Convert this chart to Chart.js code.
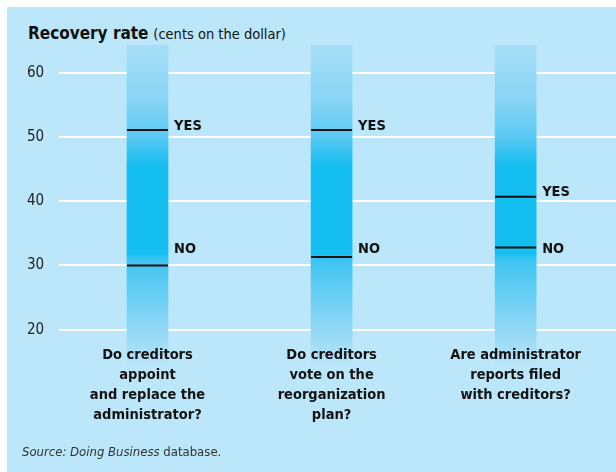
<!DOCTYPE html>
<html>
<head>
<meta charset="utf-8">
<script src="https://cdn.jsdelivr.net/npm/chart.js@4.4.1/dist/chart.umd.min.js"></script>
<style>
  body { margin: 0; background: #fff; }
  #wrap { position: relative; width: 616px; height: 472px; overflow: hidden; }
  #panel { position: absolute; left: 7px; top: 7px; right: 0; bottom: 0; background: #bce6fa; }
  .cond { font-family: "DejaVu Sans Condensed", "Liberation Sans Narrow", Roboto, sans-serif; font-stretch: condensed; color: #111; }
  #title { position: absolute; left: 28px; top: 23px; font-size: 17px; line-height: 20px; white-space: nowrap; }
  #title b { font-weight: bold; }
  #title span { font-size: 14.5px; }
  #source { position: absolute; left: 22px; top: 444px; font-size: 13px; line-height: 16px; color: #333; white-space: nowrap; }
  #chart { position: absolute; left: 0; top: 0; }
</style>
</head>
<body>
<div id="wrap">
  <div id="panel"></div>
  <div id="title" class="cond"><b>Recovery rate</b> <span>(cents on the dollar)</span></div>
  <canvas id="chart" width="616" height="472"></canvas>
  <div id="source" class="cond"><i>Source: Doing Business</i> database.</div>
</div>
<script>
// values
const questions = [
    ['Do creditors', 'appoint', 'and replace the', 'administrator?'],
    ['Do creditors', 'vote on the', 'reorganization', 'plan?'],
    ['Are administrator', 'reports filed', 'with creditors?']
];
const yesValues = [51.1, 51.1, 40.7];
const noValues = [30.0, 31.3, 32.8];
const yTicks = [20, 30, 40, 50, 60];
const stripRange = [14.5, 64.3];

const FONT = '"DejaVu Sans Condensed", "Liberation Sans Narrow", Roboto, sans-serif';

function stripGradient(context) {
    const chart = context.chart;
    const y = chart.scales.y;
    if (!chart.chartArea || !y) return '#14bef0';
    const top = y.getPixelForValue(stripRange[1]);
    const bottom = y.getPixelForValue(stripRange[0]);
    const g = chart.ctx.createLinearGradient(0, top, 0, bottom);
    g.addColorStop(0, '#a8def7');
    g.addColorStop(0.17, '#88d5f5');
    g.addColorStop(0.29, '#58c9f3');
    g.addColorStop(0.378, '#14bef0');
    g.addColorStop(0.65, '#14bef0');
    g.addColorStop(0.672, '#3ec4f2');
    g.addColorStop(0.79, '#6bcff4');
    g.addColorStop(0.913, '#9adaf6');
    g.addColorStop(1, '#b8e4f9');
    return g;
}

// YES / NO text beside the black marks
const markLabels = {
    id: 'markLabels',
    afterDatasetsDraw(chart) {
        const ctx = chart.ctx;
        const yesPts = chart.getDatasetMeta(1).data;
        const noPts = chart.getDatasetMeta(2).data;
        const noTop = Math.min(...noPts.map(p => p.y));
        ctx.save();
        ctx.font = 'bold 14.5px ' + FONT;
        ctx.fillStyle = '#111';
        ctx.textBaseline = 'middle';
        yesPts.forEach(p => ctx.fillText('YES', p.x + 26.5, p.y - 4));
        noPts.forEach(p => ctx.fillText('NO', p.x + 26.5, noTop + 2));
        ctx.restore();
    }
};

const markStyle = {
    type: 'line',
    showLine: false,
    pointStyle: 'line',
    pointRadius: 20.5,
    pointBorderWidth: 2,
    pointBorderColor: '#111',
    order: 1
};

new Chart(document.getElementById('chart'), {
    type: 'bar',
    data: {
        datasets: [
            {
                data: questions.map((q, i) => ({ x: i, y: stripRange })),
                backgroundColor: stripGradient,
                barThickness: 41,
                borderWidth: 0,
                clip: false,
                order: 2
            },
            { ...markStyle, data: yesValues.map((v, i) => ({ x: i, y: v })) },
            { ...markStyle, data: noValues.map((v, i) => ({ x: i, y: v })) }
        ]
    },
    options: {
        responsive: false,
        animation: false,
        events: [],
        layout: { autoPadding: false, padding: { left: 12, top: 45, right: 0, bottom: 47 } },
        plugins: { legend: { display: false }, tooltip: { enabled: false } },
        scales: {
            x: {
                type: 'linear',
                offset: false,
                min: -0.48,
                max: 2.545,
                grid: { display: false, drawTicks: false },
                border: { display: false },
                afterBuildTicks: axis => { axis.ticks = questions.map((q, i) => ({ value: i })); },
                afterFit: axis => { axis.paddingLeft = 0; axis.paddingRight = 0; },
                ticks: {
                    autoSkip: false,
                    maxRotation: 0,
                    padding: 0,
                    z: 1,
                    color: '#111',
                    font: { family: FONT, size: 14.5, weight: 'bold', lineHeight: '20px' },
                    callback: v => questions[v]
                }
            },
            y: {
                min: 17.62,
                max: 64.31,
                grid: { color: '#ffffff', lineWidth: 2, drawTicks: false },
                border: { display: false },
                afterBuildTicks: axis => { axis.ticks = yTicks.map(v => ({ value: v })); },
                ticks: {
                    padding: 15,
                    color: '#222',
                    font: { family: FONT, size: 15 }
                }
            }
        }
    },
    plugins: [markLabels]
});
</script>
</body>
</html>
